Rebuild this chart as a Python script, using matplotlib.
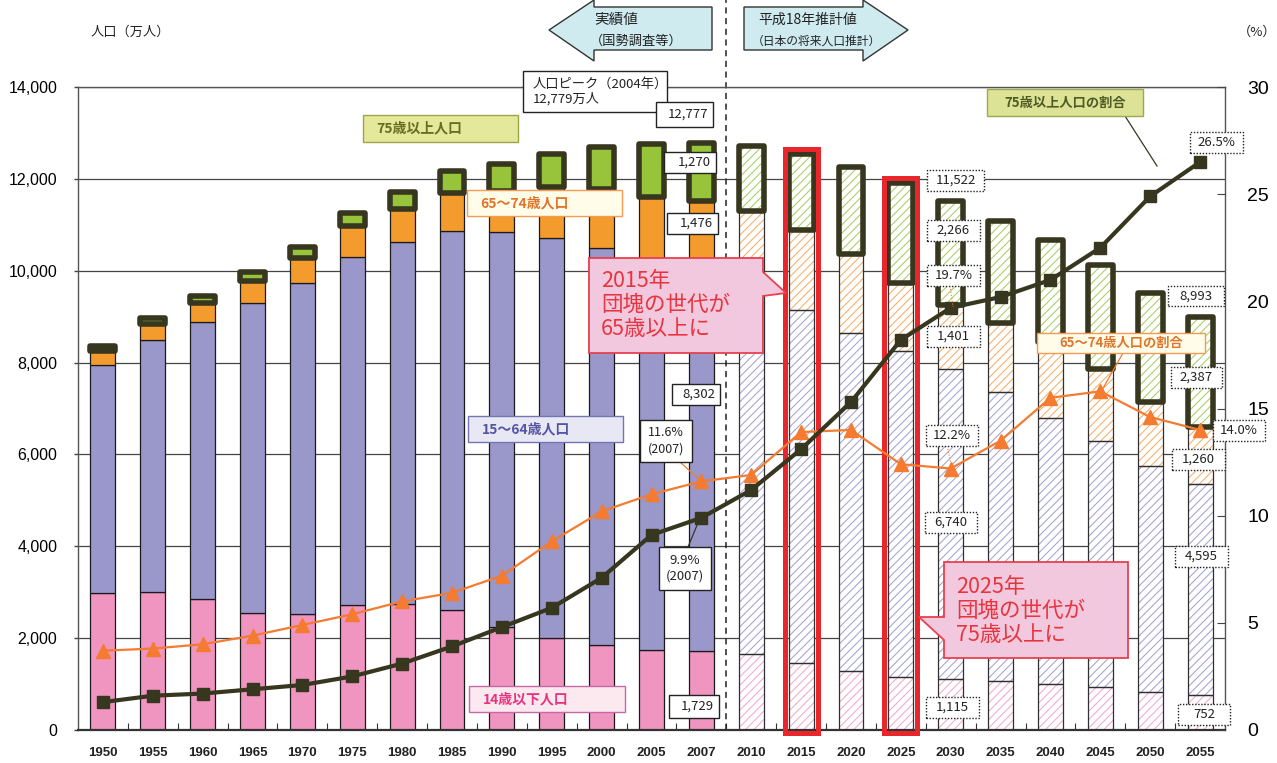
import matplotlib
matplotlib.use('Agg')
import matplotlib.pyplot as plt
from matplotlib.patches import Rectangle, Polygon
from matplotlib.lines import Line2D
import numpy as np

# ---------------- data ----------------
years = ['1950', '1955', '1960', '1965', '1970', '1975', '1980', '1985', '1990', '1995',
         '2000', '2005', '2007', '2010', '2015', '2020', '2025', '2030', '2035', '2040',
         '2045', '2050', '2055']
pop_0_14 = [2979, 3012, 2843, 2553, 2515, 2722, 2751, 2603, 2249, 2001, 1847, 1752, 1729,
            1648, 1457, 1274, 1161, 1115, 1068, 1008, 935, 821, 752]
pop_15_64 = [4966, 5473, 6047, 6744, 7212, 7581, 7883, 8251, 8590, 8716, 8638, 8442, 8302,
             8128, 7681, 7363, 7096, 6740, 6292, 5787, 5353, 4930, 4595]
pop_65_74 = [309, 353, 400, 482, 558, 661, 709, 842, 894, 1109, 1301, 1407, 1476,
             1517, 1749, 1733, 1479, 1401, 1493, 1646, 1581, 1388, 1260]
pop_75 = [107, 139, 163, 189, 224, 284, 366, 471, 597, 717, 901, 1160, 1270,
          1419, 1645, 1879, 2167, 2266, 2235, 2223, 2255, 2373, 2387]
ratio_75 = [1.3, 1.6, 1.7, 1.9, 2.1, 2.5, 3.1, 3.9, 4.8, 5.7, 7.1, 9.1, 9.9,
            11.2, 13.1, 15.3, 18.2, 19.7, 20.2, 21.0, 22.5, 24.9, 26.5]
ratio_65_74 = [3.7, 3.8, 4.0, 4.4, 4.9, 5.4, 6.0, 6.4, 7.2, 8.8, 10.2, 11.0, 11.6,
               11.9, 13.9, 14.0, 12.4, 12.2, 13.5, 15.5, 15.8, 14.6, 14.0]
n_actual = 13  # 1950-2007 actual, 2010- projections
left_ticks = [0, 2000, 4000, 6000, 8000, 10000, 12000, 14000]
right_ticks = [0, 5, 10, 15, 20, 25, 30]

# ---------------- style ----------------
plt.rcParams['font.family'] = ['Noto Sans CJK JP', 'DejaVu Sans']
plt.rcParams['hatch.linewidth'] = 0.75

C_PINK, C_PURPLE, C_ORANGE, C_GREEN = '#F094C0', '#9A97CA', '#F39B2D', '#98C43C'
H_PINK, H_PURPLE, H_ORANGE, H_GREEN = '#F4A8CC', '#A4A2D2', '#F8AE66', '#A6CE62'
DARK = '#37361F'
LINE_OR = '#F47B30'

W, H = 1277, 763
fig = plt.figure(figsize=(W / 100, H / 100), dpi=100)
ax = fig.add_axes([78 / W, 1 - 730 / H, (1225 - 78) / W, (730 - 87) / H])

x = np.arange(len(years))
bw = 0.5
HATCH = '////'

layers = [(pop_0_14, C_PINK, H_PINK), (pop_15_64, C_PURPLE, H_PURPLE),
          (pop_65_74, C_ORANGE, H_ORANGE)]
bottom = np.zeros(len(years))
for vals, c, hc in layers:
    vals = np.array(vals, dtype=float)
    for i in range(len(years)):
        if i < n_actual:
            ax.bar(x[i], vals[i], bottom=bottom[i], width=bw, color=c,
                   edgecolor='#1a1a1a', linewidth=0.9, zorder=2)
        else:
            ax.bar(x[i], vals[i], bottom=bottom[i], width=bw, facecolor='white',
                   edgecolor=hc, hatch=HATCH, linewidth=0, zorder=2)
            ax.bar(x[i], vals[i], bottom=bottom[i], width=bw, fill=False,
                   edgecolor='#303030', linewidth=0.9, zorder=2.1)
    bottom = bottom + vals

v75 = np.array(pop_75, dtype=float)
for i in range(len(years)):
    if i < n_actual:
        b = ax.bar(x[i], v75[i], bottom=bottom[i], width=bw, color=C_GREEN,
                   edgecolor=DARK, linewidth=4.0, zorder=3)
    else:
        ax.bar(x[i], v75[i], bottom=bottom[i], width=bw, facecolor='white',
               edgecolor=H_GREEN, hatch=HATCH, linewidth=0, zorder=3)
        b = ax.bar(x[i], v75[i], bottom=bottom[i], width=bw, fill=False,
                   edgecolor=DARK, linewidth=4.0, zorder=3.1)
    for p in b:
        p.set_joinstyle('round')
totals = bottom + v75

# red frames around 2015 and 2025
for yr in ['2015', '2025']:
    i = years.index(yr)
    ax.add_patch(Rectangle((x[i] - 0.33, -70), 0.66, totals[i] + 190,
                           fill=False, edgecolor='#E8262B', linewidth=3.6,
                           zorder=4, clip_on=False))

ax.set_xlim(-0.5, len(years) - 0.5)
ax.set_ylim(0, 14000)
ax.set_yticks(left_ticks)
ax.set_yticklabels([f'{v:,}' for v in left_ticks], fontsize=11.5,
                   family=['Liberation Sans', 'DejaVu Sans'])
ax.tick_params(axis='y', length=3, width=1, pad=12, color='#444')
ax.set_xticks(x[:-1] + 0.5)
ax.set_xticklabels([])
ax.set_xticks(x, minor=True)
ax.set_xticklabels(years, minor=True, fontsize=9.5, fontweight='bold',
                   family=['Liberation Sans Narrow', 'Liberation Sans', 'DejaVu Sans'],
                   color='#222')
ax.tick_params(axis='x', which='major', direction='in', length=5, color='#333')
ax.tick_params(axis='x', which='minor', length=0, pad=12)
ax.yaxis.grid(True, color='#444444', linewidth=0.9, zorder=0)
ax.set_axisbelow(True)
for s in ax.spines.values():
    s.set_color('#555555')
    s.set_linewidth(1.0)
ax.spines['bottom'].set_color('#333')
ax.spines['bottom'].set_linewidth(1.6)

# dashed divider between actual and projection
ax.axvline(n_actual - 0.5, ymin=0, ymax=730 / 643, color='#222', linestyle=(0, (4, 3)),
           linewidth=1.1, clip_on=False, zorder=1)

# ratio lines
ax2 = ax.twinx()
ax2.set_ylim(0, 30)
ax2.set_yticks(right_ticks)
ax2.set_yticklabels([str(v) for v in right_ticks], fontsize=14,
                    family=['Liberation Sans Narrow', 'Liberation Sans', 'DejaVu Sans'])
ax2.tick_params(axis='y', direction='in', length=6, pad=16, color='#444')
for s in ax2.spines.values():
    s.set_visible(False)
ax2.plot(x, ratio_65_74, color=LINE_OR, linewidth=1.6, marker='^', markersize=9.5,
         markerfacecolor=LINE_OR, markeredgecolor=LINE_OR, zorder=5)
ax2.plot(x, ratio_75, color=DARK, linewidth=3.0, marker='s', markersize=8,
         markerfacecolor=DARK, markeredgecolor=DARK, zorder=6)

# ---------------- annotations (figure pixel coords) ----------------
def P(px, py):
    return (px / W, 1 - py / H)


def box(x0, y0, x1, y1, text, fc='white', ec='#222', ls='-', lw=1.0, tc='#222',
        fs=9, fw='normal', ha='center', ls_text=1.2, pad=8):
    fig.add_artist(Rectangle(P(x0, y1), (x1 - x0) / W, (y1 - y0) / H,
                             transform=fig.transFigure, facecolor=fc, edgecolor=ec,
                             linestyle=ls, linewidth=lw, zorder=10))
    if ha == 'center':
        tx = (x0 + x1) / 2
    elif ha == 'right':
        tx = x1 - 5
    else:
        tx = x0 + pad
    fig.text(*P(tx, (y0 + y1) / 2), text, ha=ha, va='center', color=tc, fontsize=fs,
             fontweight=fw, zorder=11, linespacing=ls_text)


def line(x0, y0, x1, y1, color='#222', lw=1.0, ls='-'):
    fig.add_artist(Line2D([x0 / W, x1 / W], [1 - y0 / H, 1 - y1 / H],
                          transform=fig.transFigure, color=color, linewidth=lw,
                          linestyle=ls, zorder=9))


def poly(pts, fc, ec, lw=1.0):
    fig.add_artist(Polygon([P(a, b) for a, b in pts], closed=True,
                           transform=fig.transFigure, facecolor=fc, edgecolor=ec,
                           linewidth=lw, zorder=10))


# axis titles
fig.text(*P(91, 32), '人口（万人）', fontsize=9.5, ha='left', va='center', color='#222')
fig.text(*P(1238, 32), '（%）', fontsize=9.5, ha='left', va='center', color='#222')

# block arrows
poly([(549, 30), (594, 0), (594, 7), (712, 7), (712, 50), (594, 50), (594, 61)],
     '#CFEBF0', '#333', 1.0)
fig.text(*P(594, 20), '実績値', fontsize=10.5, ha='left', va='center', color='#222', zorder=11)
fig.text(*P(590, 41), '（国勢調査等）', fontsize=9.5, ha='left', va='center', color='#222', zorder=11)
poly([(744, 7), (863, 7), (863, 0), (908, 30), (863, 61), (863, 50), (744, 50)],
     '#CFEBF0', '#333', 1.0)
fig.text(*P(758, 20), '平成18年推計値', fontsize=10, ha='left', va='center', color='#222', zorder=11)
fig.text(*P(752, 41), '（日本の将来人口推計）', fontsize=8.5, ha='left', va='center', color='#222', zorder=11)

# solid-bordered value boxes (actual)
box(523, 71, 667, 112, '人口ピーク（2004年）\n12,779万人', fs=9.5, ha='left', ls_text=1.1, pad=10)
box(656, 102, 713, 127, '12,777', fs=9.5, ha='right')
box(664, 152, 716, 173, '1,270', fs=9.5, ha='right')
box(667, 213, 718, 234, '1,476', fs=9.5, ha='right')
box(672, 384, 720, 405, '8,302', fs=9.5, ha='right')
box(640, 420, 692, 462, '11.6%\n(2007)', fs=9, ls_text=1.3)
line(680, 462, 700, 480, LINE_OR, 0.9)
box(659, 547, 711, 590, '9.9%\n(2007)', fs=9.5, ls_text=1.3)
line(688, 547, 700, 518, DARK, 0.9)
box(669, 695, 719, 718, '1,729', fs=9.5, ha='right')

# dotted value boxes (projection)
DOT = (0, (1, 1.2))
box(927, 170, 984, 191, '11,522', ls=DOT, fs=9.5)
box(927, 220, 980, 241, '2,266', ls=DOT, fs=9.5)
box(927, 265, 980, 286, '19.7%', ls=DOT, fs=9.5)
line(950, 286, 953, 307, LINE_OR, 0.8, ':')
box(927, 326, 980, 347, '1,401', ls=DOT, fs=9.5)
box(926, 425, 978, 446, '12.2%', ls=DOT, fs=9.5)
line(947, 446, 952, 468, LINE_OR, 0.8, ':')
box(925, 512, 977, 533, '6,740', ls=DOT, fs=9.5)
box(926, 697, 979, 718, '1,115', ls=DOT, fs=9.5)
box(1190, 132, 1243, 153, '26.5%', ls=DOT, fs=9.5)
box(1168, 286, 1224, 306, '8,993', ls=DOT, fs=9.5)
box(1171, 367, 1222, 388, '2,387', ls=DOT, fs=9.5)
box(1213, 420, 1265, 441, '14.0%', ls=DOT, fs=9.5)
box(1172, 449, 1225, 470, '1,260', ls=DOT, fs=9.5)
box(1175, 546, 1228, 567, '4,595', ls=DOT, fs=9.5)
box(1178, 704, 1230, 725, '752', ls=DOT, fs=9.5)

# series label boxes
box(363, 115, 518, 142, '75歳以上人口', fc='#E4E89A', ec='#A0A448', tc='#6A6A22',
    fs=10, fw='bold', ha='left', pad=13)
box(467, 190, 622, 216, '65〜74歳人口', fc='#FFFDEA', ec='#F39A55', tc='#E0742A',
    fs=10, fw='bold', ha='left', pad=13)
box(468, 416, 623, 442, '15〜64歳人口', fc='#E8E8F4', ec='#7474B4', tc='#5454A4',
    fs=10, fw='bold', ha='left', pad=14)
box(469, 686, 625, 712, '14歳以下人口', fc='#FCE9EF', ec='#C468A6', tc='#E8347E',
    fs=10, fw='bold', ha='left', pad=14)
box(987, 89, 1143, 116, '75歳以上人口の割合', fc='#DCE396', ec='#9EA84E', tc='#4E5A22',
    fs=9.5, fw='bold')
line(1125, 116, 1157, 166, DARK, 0.9)
box(1037, 333, 1205, 353, '65〜74歳人口の割合', fc='#FFFDEA', ec='#F39A55', tc='#E0742A',
    fs=9.5, fw='bold')
line(1123, 353, 1102, 390, LINE_OR, 0.9)

# callouts
poly([(589, 258), (763, 258), (763, 272), (786, 293), (763, 296), (763, 353), (589, 353)],
     '#F1C8DD', '#E8404E', 1.3)
fig.text(*P(601, 305), '2015年\n団塊の世代が\n65歳以上に', fontsize=15.5, ha='left',
         va='center', color='#E8343E', zorder=11, linespacing=1.12)
poly([(944, 562), (1128, 562), (1128, 658), (944, 658), (944, 640), (919, 617), (944, 617)],
     '#F1C8DD', '#E8404E', 1.3)
fig.text(*P(956, 611), '2025年\n団塊の世代が\n75歳以上に', fontsize=15.5, ha='left',
         va='center', color='#E8343E', zorder=11, linespacing=1.12)

fig.savefig('out.png', dpi=100)
